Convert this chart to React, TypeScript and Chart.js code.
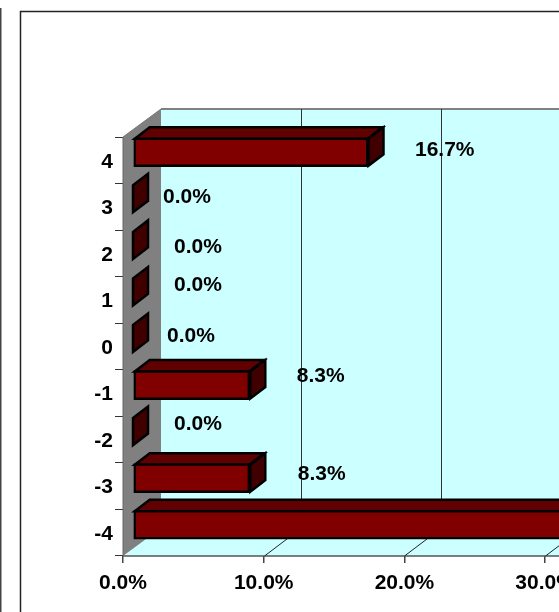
import React, { useEffect, useRef } from "react";
import { Chart, registerables } from "chart.js";

Chart.register(...registerables);

const categories = ["4", "3", "2", "1", "0", "-1", "-2", "-3", "-4"];
const shares = [16.7, 0, 0, 0, 0, 8.3, 0, 8.3, 66.7];
const axisTicks = [0, 10, 20, 30, 40, 50, 60, 70];

const FONT = 'bold 21px "Liberation Sans", Arial, sans-serif';
const W = 1200;
const H = 612;
const AREA = { left: 123, top: 137, bottom: 556, right: 1108 };
const WALL_DX = 38;
const WALL_DY = 28;
const BAR_DX = 10;
const BAR_DY = -8;
const DEPTH_X = 15;
const DEPTH_Y = 11.5;
// hand-placed label nudges of the original: [left of text minus bar end, centre minus band centre]
const LABEL_NUDGE: [number, number][] = [
  [47, -10], [30, -10], [41, -6], [41, -15], [34, -10], [47, -17], [41, -15], [48, -12], [40, -12],
];

const poly = (ctx: CanvasRenderingContext2D, pts: number[][], fill: string | null, stroke: string | null, lw = 1) => {
  ctx.beginPath();
  pts.forEach((p, i) => (i ? ctx.lineTo(p[0], p[1]) : ctx.moveTo(p[0], p[1])));
  ctx.closePath();
  if (fill) { ctx.fillStyle = fill; ctx.fill(); }
  if (stroke) { ctx.strokeStyle = stroke; ctx.lineWidth = lw; ctx.stroke(); }
};

const line = (ctx: CanvasRenderingContext2D, x1: number, y1: number, x2: number, y2: number, c: string, lw = 1) => {
  ctx.beginPath();
  ctx.moveTo(x1, y1);
  ctx.lineTo(x2, y2);
  ctx.strokeStyle = c;
  ctx.lineWidth = lw;
  ctx.stroke();
};

const scene3d = {
  id: "scene3d",
  beforeDraw(chart: any) {
    const ctx = chart.ctx;
    ctx.save();
    ctx.fillStyle = "#ffffff";
    ctx.fillRect(0, 0, W, H);
    // outer frames
    line(ctx, 0.5, 8, 0.5, H, "#444444", 2);
    ctx.strokeStyle = "#222222";
    ctx.lineWidth = 1.5;
    ctx.strokeRect(20.5, 11.5, W, H);
    ctx.restore();
  },
  beforeDatasetsDraw(chart: any) {
    const ctx = chart.ctx;
    const a = chart.chartArea;
    const x = chart.scales.x;
    ctx.save();
    // floor
    poly(ctx, [[a.left, a.bottom], [a.left + WALL_DX, a.bottom - WALL_DY], [a.right + WALL_DX, a.bottom - WALL_DY], [a.right, a.bottom]], "#ccffff", null);
    // back wall
    ctx.fillStyle = "#ccffff";
    ctx.fillRect(a.left + WALL_DX, a.top - WALL_DY, a.right - a.left, a.bottom - a.top);
    // side wall
    poly(ctx, [[a.left, a.top], [a.left + WALL_DX, a.top - WALL_DY], [a.left + WALL_DX, a.bottom - WALL_DY], [a.left, a.bottom]], "#808080", null);
    line(ctx, a.left, a.top, a.left + WALL_DX, a.top - WALL_DY, "#777777", 1);
    line(ctx, a.left + WALL_DX, a.top - WALL_DY, a.right + WALL_DX, a.top - WALL_DY, "#808080", 2);
    line(ctx, a.left, a.bottom, a.right, a.bottom, "#555555", 1.5);
    line(ctx, a.left, a.top, a.left, a.bottom, "#666666", 1);
    // gridlines across floor and back wall
    axisTicks.slice(1).forEach((t) => {
      const px = Math.round(x.getPixelForValue(t)) + 0.5;
      line(ctx, px, a.bottom, px + WALL_DX - 1, a.bottom - WALL_DY, "#222222", 1);
      line(ctx, px + WALL_DX - 1, a.bottom - WALL_DY, px + WALL_DX - 1, a.top - WALL_DY, "#333333", 1);
    });
    ctx.restore();
  },
  beforeDatasetDraw(chart: any) {
    const ctx = chart.ctx;
    ctx.save();
    ctx.translate(BAR_DX, BAR_DY);
    const meta = chart.getDatasetMeta(0);
    meta.data.forEach((bar: any) => {
      const h = 29;
      const top = bar.y - h / 2;
      const bottom = bar.y + h / 2;
      const l = bar.base;
      const r = bar.x + (bar.x - bar.base > 0.5 ? 0.5 : 0);
      if (r - l > 0.5) {
        poly(ctx, [[l + 1, top + 1], [l + 1 + DEPTH_X, top + 1 - DEPTH_Y], [r + DEPTH_X - 1, top + 1 - DEPTH_Y], [r - 1, top + 1]], "#600000", "#000000", 2.5);
      }
      poly(ctx, [[r, top + 1], [r + DEPTH_X, top + 1 - DEPTH_Y], [r + DEPTH_X, bottom - 1 - DEPTH_Y], [r, bottom - 1]], "#400000", "#000000", 2.5);
    });
  },
  afterDatasetDraw(chart: any) {
    chart.ctx.restore();
  },
  afterDatasetsDraw(chart: any) {
    const ctx = chart.ctx;
    const meta = chart.getDatasetMeta(0);
    ctx.save();
    ctx.font = FONT;
    ctx.fillStyle = "#000000";
    ctx.textBaseline = "middle";
    ctx.textAlign = "left";
    meta.data.forEach((bar: any, i: number) => {
      const [dx, dy] = LABEL_NUDGE[i];
      ctx.fillText(`${shares[i].toFixed(1)}%`, bar.x + BAR_DX + dx, bar.y + dy);
    });
    ctx.restore();
  },
};

export default function App() {
  const ref = useRef<HTMLCanvasElement>(null);
  useEffect(() => {
    const chart = new Chart(ref.current as HTMLCanvasElement, {
      type: "bar",
      data: {
        labels: categories,
        datasets: [
          {
            data: shares,
            backgroundColor: "#800000",
            borderColor: "#000000",
            borderWidth: 2.5,
            borderSkipped: false,
            barThickness: 29,
            clip: false,
          } as any,
        ],
      },
      options: {
        indexAxis: "y",
        responsive: false,
        animation: false,
        layout: { padding: { left: 0, top: AREA.top, right: W - AREA.right, bottom: 0 } },
        plugins: { legend: { display: false }, title: { display: false }, tooltip: { enabled: false } },
        scales: {
          x: {
            type: "linear",
            min: 0,
            max: 70,
            afterBuildTicks: (s: any) => { s.ticks = axisTicks.map((value) => ({ value })); },
            afterFit: (s: any) => { s.height = H - AREA.bottom; },
            border: { display: false },
            grid: { drawOnChartArea: false, drawTicks: true, tickLength: 7, color: "#444444", lineWidth: 1.5 },
            ticks: {
              color: "#000000",
              font: { family: '"Liberation Sans", Arial, sans-serif', weight: "bold", size: 21 },
              padding: 8,
              maxRotation: 0,
              callback: (v: any) => `${Number(v).toFixed(1)}%`,
            },
          },
          y: {
            afterFit: (s: any) => { s.width = AREA.left; },
            border: { display: false },
            grid: { drawOnChartArea: false, drawTicks: true, tickLength: 8, color: "#333333", offset: true },
            ticks: {
              color: "#000000",
              font: { family: '"Liberation Sans", Arial, sans-serif', weight: "bold", size: 21 },
              padding: 2,
              labelOffset: 1.5,
            },
          },
        },
      },
      plugins: [scene3d],
    } as any);
    return () => chart.destroy();
  }, []);
  return (
    <div style={{ position: "fixed", left: 0, top: 0, width: 559, height: H, overflow: "hidden", background: "#fff" }}>
      <canvas ref={ref} width={W} height={H} style={{ display: "block" }} />
    </div>
  );
}
